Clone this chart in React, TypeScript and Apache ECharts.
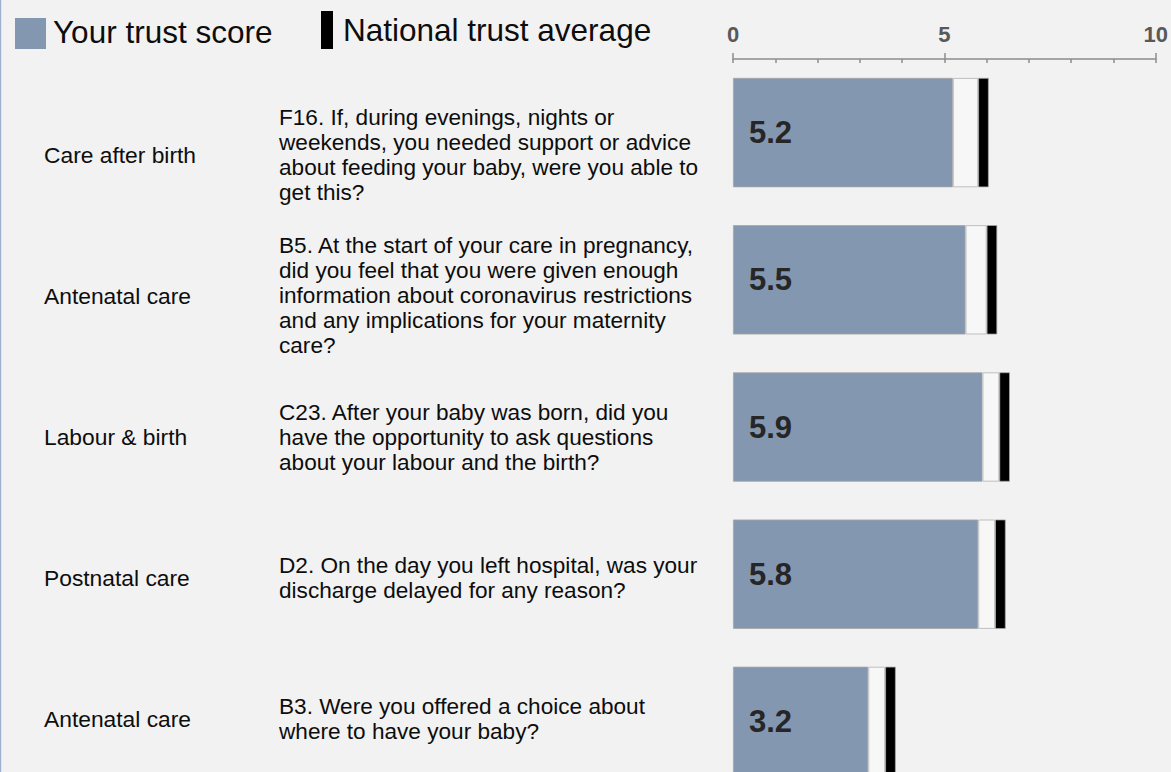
import React, { useEffect, useRef } from "react";
import * as echarts from "echarts";

const questionIds = ["F16", "B5", "C23", "D2", "B3"];
const sections = ["Care after birth", "Antenatal care", "Labour & birth", "Postnatal care", "Antenatal care"];
const questions = [
  "F16. If, during evenings, nights or\nweekends, you needed support or advice\nabout feeding your baby, were you able to\nget this?",
  "B5. At the start of your care in pregnancy,\ndid you feel that you were given enough\ninformation about coronavirus restrictions\nand any implications for your maternity\ncare?",
  "C23. After your baby was born, did you\nhave the opportunity to ask questions\nabout your labour and the birth?",
  "D2. On the day you left hospital, was your\ndischarge delayed for any reason?",
  "B3. Were you offered a choice about\nwhere to have your baby?",
];
const trustScores = [5.2, 5.5, 5.9, 5.8, 3.2];
const nationalAverage = [5.8, 6.0, 6.3, 6.2, 3.6];
const markerWidth = 0.25;
const axisTicks = [0, 5, 10];

const FONT = "'Liberation Sans', Arial, sans-serif";

export default function App() {
  const ref = useRef<HTMLDivElement>(null);
  useEffect(() => {
    if (!ref.current) return;
    const chart = echarts.init(ref.current, undefined, { renderer: "svg" });
    const gaps = nationalAverage.map((n, i) => +(n - trustScores[i]).toFixed(2));
    const markers = nationalAverage.map(() => markerWidth);
    chart.setOption({
      animation: false,
      backgroundColor: "#f2f2f2",
      textStyle: { fontFamily: FONT },
      grid: [
        { left: 733, right: 15, top: 59, height: 736, containLabel: false },
        { left: 733, right: 15, top: 84, height: 706, containLabel: false },
      ],
      xAxis: [
        {
          type: "value",
          gridIndex: 0,
          position: "top",
          min: axisTicks[0],
          max: axisTicks[axisTicks.length - 1],
          interval: 5,
          axisLine: { show: true, lineStyle: { color: "#8c8c8c", width: 1.5 } },
          axisTick: { show: true, length: 6, lineStyle: { color: "#8c8c8c", width: 1.5 } },
          axisLabel: {
            show: true,
            margin: 14,
            fontSize: 22,
            fontWeight: "bold",
            color: "#595959",
            fontFamily: FONT,
          },
          splitLine: { show: false },
        },
        {
          type: "value",
          gridIndex: 0,
          position: "top",
          min: 0,
          max: 10,
          interval: 1,
          axisLine: { show: false },
          axisTick: { show: true, inside: true, length: 4, lineStyle: { color: "#8c8c8c", width: 1.5 } },
          axisLabel: { show: false },
          splitLine: { show: false },
        },
        { type: "value", gridIndex: 1, show: false, min: 0, max: 10 },
      ],
      yAxis: [
        {
          type: "category",
          gridIndex: 0,
          position: "left",
          inverse: true,
          data: questionIds,
          axisLine: { show: false },
          axisTick: { show: false },
          axisLabel: { show: false },
        },
        {
          type: "category",
          gridIndex: 1,
          position: "left",
          offset: 0,
          inverse: true,
          data: questionIds,
          axisLine: { show: false },
          axisTick: { show: false },
          axisLabel: {
            show: true,
            align: "left",
            margin: 689,
            fontSize: 22.8,
            color: "#0d0d0d",
            fontFamily: FONT,
            formatter: (_v: string, i: number) => sections[i],
          },
        },
        {
          type: "category",
          gridIndex: 1,
          position: "left",
          offset: 0,
          inverse: true,
          data: questionIds,
          axisLine: { show: false },
          axisTick: { show: false },
          axisLabel: {
            show: true,
            align: "left",
            margin: 454,
            fontSize: 22.6,
            lineHeight: 25,
            color: "#0d0d0d",
            fontFamily: FONT,
            formatter: (_v: string, i: number) => questions[i],
          },
        },
      ],
      series: [
        {
          name: "Your trust score",
          type: "bar",
          stack: "s",
          xAxisIndex: 0,
          yAxisIndex: 0,
          barCategoryGap: "25.7%",
          data: trustScores,
          itemStyle: { color: "#8497b0", borderColor: "#a6a6a6", borderWidth: 0.8 },
          label: {
            show: true,
            position: "insideLeft",
            distance: 16,
            fontSize: 31,
            fontWeight: "bold",
            color: "#262626",
            fontFamily: FONT,
            formatter: (p: any) => trustScores[p.dataIndex].toFixed(1),
          },
        },
        {
          name: "gap",
          type: "bar",
          stack: "s",
          xAxisIndex: 0,
          yAxisIndex: 0,
          data: gaps,
          itemStyle: { color: "#f7f7f7", borderColor: "#bfbfbf", borderWidth: 1 },
        },
        {
          name: "National trust average",
          type: "bar",
          stack: "s",
          xAxisIndex: 0,
          yAxisIndex: 0,
          data: markers,
          itemStyle: { color: "#000000", borderColor: "#a6a6a6", borderWidth: 0.8 },
        },
      ],
      graphic: [
        { type: "rect", left: 0, top: 0, shape: { x: 0, y: 0, width: 1.2, height: 800 }, style: { fill: "#9fb1cf" } },
        { type: "rect", shape: { x: 15, y: 18, width: 31, height: 31 }, style: { fill: "#8497b0" } },
        {
          type: "text",
          x: 53,
          y: 32,
          style: { text: "Your trust score", fontSize: 31.5, fontFamily: FONT, fill: "#0d0d0d", textVerticalAlign: "middle", verticalAlign: "middle" },
        },
        { type: "rect", shape: { x: 321, y: 11, width: 12, height: 38 }, style: { fill: "#000000" } },
        {
          type: "text",
          x: 343,
          y: 30,
          style: { text: "National trust average", fontSize: 31.5, fontFamily: FONT, fill: "#0d0d0d", textVerticalAlign: "middle", verticalAlign: "middle" },
        },
      ],
    });
    return () => chart.dispose();
  }, []);
  return (
    <div style={{ position: "absolute", left: 0, top: 0, width: 1171, height: 772, overflow: "hidden" }}>
      <div ref={ref} style={{ width: 1171, height: 800 }} />
    </div>
  );
}
